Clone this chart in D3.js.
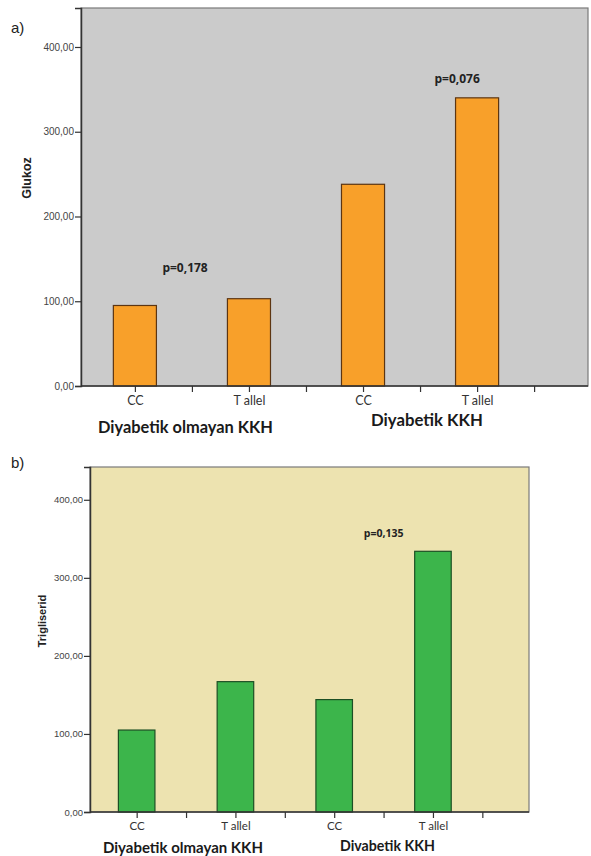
<!DOCTYPE html>
<html>
<head>
<meta charset="utf-8">
<script src="https://cdn.jsdelivr.net/npm/d3@7"></script>
<style>
  html, body { margin: 0; padding: 0; background: #ffffff; }
  svg { display: block; }
</style>
</head>
<body>
<svg id="chart" width="591" height="856"></svg>
<script>
// ---------- DATA ----------
const slots = ["s0", "s1", "s2", "s3", "s4", "s5", "s6", "s7"];
const tickLabels = ["CC", "", "T allel", "", "CC", "", "T allel", ""];
const barSlots = ["s0", "s2", "s4", "s6"];
const glukozValues = [95, 103, 238, 340];
const trigliseridValues = [105, 167, 144, 334];
const yTicks = [0, 100, 200, 300, 400];
const groupLabels = ["Diyabetik olmayan  KKH", "Diyabetik  KKH"];
const groupLabelsB = ["Diyabetik olmayan KKH", "Divabetik  KKH"];
const pLabelsA = [{ text: "p=0,178" }, { text: "p=0,076" }];
const pLabelsB = [{ text: "p=0,135" }];

const svg = d3.select("#chart");
const fmt = v => d3.format(".2f")(v).replace(".", ",");

function fitWidth(sel, w) {
  const node = sel.node();
  const cur = node.getComputedTextLength();
  const fs = parseFloat(sel.attr("font-size"));
  sel.attr("font-size", (fs * w / cur).toFixed(2));
}

function panel(cfg) {
  const g = svg.append("g");
  const x = d3.scalePoint().domain(slots).range([cfg.left, cfg.right]).padding(0.945);
  const y = d3.scaleLinear().domain([0, cfg.yMax]).range([cfg.bottom, cfg.top]);
  const bw = x.step() * cfg.barFrac;

  // background + frame
  g.append("rect")
    .attr("x", cfg.left).attr("y", cfg.top)
    .attr("width", cfg.right - cfg.left).attr("height", cfg.bottom - cfg.top)
    .attr("fill", cfg.bg).attr("stroke", "#7a7a7a").attr("stroke-width", 1.2);

  // bars
  g.selectAll("rect.bar").data(cfg.values).join("rect")
    .attr("class", "bar")
    .attr("x", (d, i) => x(barSlots[i]) - bw / 2)
    .attr("y", d => y(d))
    .attr("width", bw)
    .attr("height", d => y(0) - y(d))
    .attr("fill", cfg.barFill)
    .attr("stroke", cfg.barStroke)
    .attr("stroke-width", 1.2);

  // y axis
  const ya = g.append("g").attr("transform", `translate(${cfg.left},0)`)
    .call(d3.axisLeft(y).tickValues(yTicks).tickFormat(fmt).tickSize(6).tickPadding(1));
  ya.select(".domain").attr("stroke", "#333").attr("stroke-width", 1.5);
  ya.selectAll(".tick line").attr("stroke", "#333").attr("stroke-width", 1.2);
  ya.selectAll(".tick text").attr("font-family", "Liberation Sans, Arial, sans-serif")
    .attr("font-size", cfg.yTickFont).attr("fill", "#444");

  // x axis
  const xa = g.append("g").attr("transform", `translate(0,${cfg.bottom})`)
    .call(d3.axisBottom(x).tickFormat((d, i) => tickLabels[i]).tickSize(6).tickPadding(cfg.xTickPad));
  xa.select(".domain").attr("d", `M${cfg.left},0H${cfg.right}`).attr("stroke", "#333").attr("stroke-width", 1.5);
  xa.selectAll(".tick line").attr("stroke", "#333").attr("stroke-width", 1.2);
  xa.selectAll(".tick text").attr("font-family", "Lato, 'Open Sans', sans-serif")
    .attr("font-size", cfg.xTickFont).attr("fill", "#333");

  // group labels
  cfg.groups.forEach((gl, i) => {
    const t = g.append("text")
      .attr("x", gl.x).attr("y", gl.y)
      .attr("font-family", "Lato, 'Open Sans', sans-serif").attr("font-weight", "bold")
      .attr("font-size", 14).attr("fill", "#1a1a1a")
      .text(cfg.groupText[i]);
    fitWidth(t, gl.w);
  });

  // p labels
  cfg.pLabels.forEach(p => {
    g.append("text")
      .attr("x", x(p.slot) + p.dx * x.step()).attr("y", y(p.v))
      .attr("text-anchor", "middle")
      .attr("font-family", "'Open Sans', Lato, sans-serif").attr("font-weight", "bold")
      .attr("font-size", p.fs).attr("fill", "#222")
      .text(p.text);
  });

  // y title
  g.append("text")
    .attr("transform", `translate(${cfg.ytX},${cfg.ytY}) rotate(-90)`)
    .attr("text-anchor", "middle")
    .attr("font-family", "'Liberation Sans', Arial, sans-serif").attr("font-weight", "bold")
    .attr("font-size", cfg.ytFont).attr("fill", "#222")
    .text(cfg.yTitle);

  // panel letter
  g.append("text")
    .attr("x", 11).attr("y", cfg.letterY)
    .attr("font-family", "'Liberation Sans', Arial, sans-serif")
    .attr("font-size", 15).attr("fill", "#222")
    .text(cfg.letter);
}

panel({
  left: 81, right: 588, top: 8, bottom: 386, yMax: 446,
  bg: "#cbcbcb", barFill: "#f8a02a", barStroke: "#5c3512", barFrac: 0.755,
  values: glukozValues, yTickFont: 10, xTickFont: 12.5, xTickPad: 4,
  groups: [{ x: 98, y: 433, w: 175 }, { x: 371, y: 426, w: 112 }],
  groupText: groupLabels,
  pLabels: [
    { text: pLabelsA[0].text, slot: "s1", dx: -0.12, v: 135, fs: 12 },
    { text: pLabelsA[1].text, slot: "s6", dx: -0.35, v: 357, fs: 12 }
  ],
  yTitle: "Glukoz", ytX: 31, ytY: 178, ytFont: 12.5,
  letter: "a)", letterY: 33
});

panel({
  left: 90, right: 529, top: 467, bottom: 812, yMax: 442,
  bg: "#ede3b0", barFill: "#3cb54b", barStroke: "#1c4f24", barFrac: 0.74,
  values: trigliseridValues, yTickFont: 9.5, xTickPad: 4, xTickFont: 11.5,
  groups: [{ x: 103, y: 853, w: 160 }, { x: 340, y: 851, w: 95 }],
  groupText: groupLabelsB,
  pLabels: [
    { text: pLabelsB[0].text, slot: "s5", dx: 0, v: 352, fs: 10.5 }
  ],
  yTitle: "Trigliserid", ytX: 46, ytY: 621, ytFont: 11,
  letter: "b)", letterY: 468
});
</script>
</body>
</html>
